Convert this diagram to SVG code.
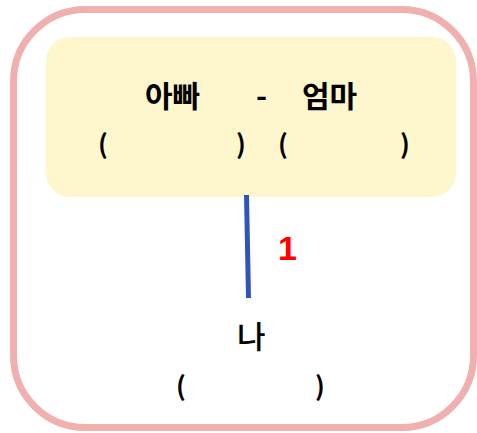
<svg xmlns="http://www.w3.org/2000/svg" width="477" height="433" viewBox="0 0 477 433">
<style>
.k{font-family:"Noto Sans CJK KR","Noto Sans",sans-serif;fill:#000}
.b{font-weight:bold}
.p{font-family:"Noto Sans CJK KR","Noto Sans",sans-serif;font-weight:bold;font-size:26px;fill:#000}
</style>
<rect x="0" y="0" width="477" height="433" fill="#fff"/>
<g id="frame"><rect x="13.5" y="9.5" width="460" height="418" rx="72" ry="72" fill="none" stroke="#F0B0B0" stroke-width="7"/></g>
<g id="parents">
<rect x="46" y="37" width="410" height="160" rx="24" ry="24" fill="#FEF6CD"/>
<text class="k b" x="145" y="107" font-size="30">아빠</text>
<text class="k b" x="256" y="107" font-size="30">-</text>
<text class="k b" x="302" y="107" font-size="30">엄마</text>
<text class="p" x="98" y="154">(</text>
<text class="p" x="236" y="154">)</text>
<text class="p" x="278" y="154">(</text>
<text class="p" x="400" y="154">)</text>
</g>
<g id="connectors">
<line x1="246.5" y1="195" x2="248.5" y2="298" stroke="#2F55B8" stroke-width="5"/>
<text x="278" y="260" font-family="Liberation Sans,Arial,sans-serif" font-weight="bold" font-size="34" fill="#FF0000">1</text>
</g>
<g id="me">
<text class="k" x="237" y="348" font-size="31" font-weight="500">나</text>
<text class="p" x="176" y="396">(</text>
<text class="p" x="315" y="396">)</text>
</g>
</svg>
